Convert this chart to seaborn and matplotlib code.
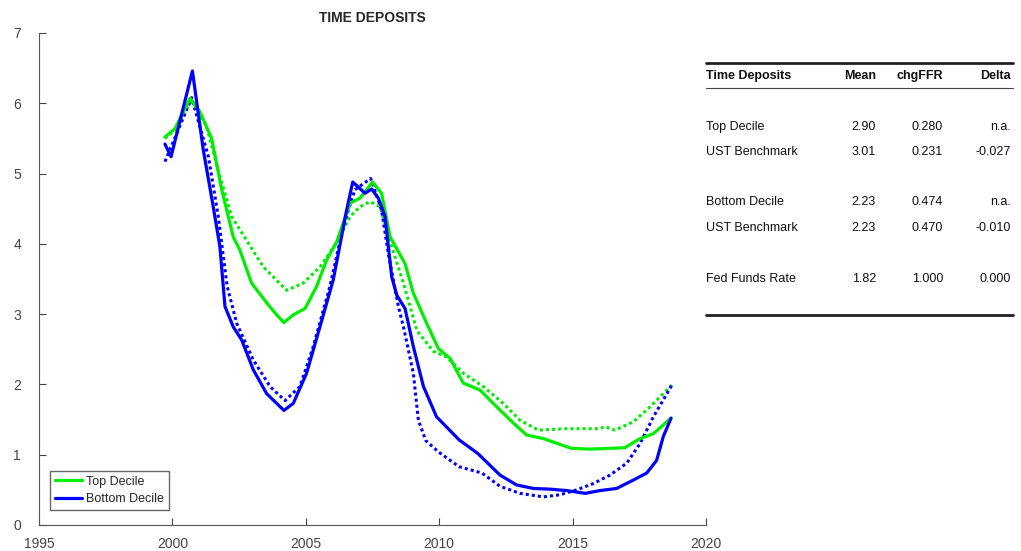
import pandas as pd
import matplotlib
matplotlib.use("Agg")
import matplotlib.pyplot as plt
import seaborn as sns
from matplotlib.lines import Line2D

# Top decile (solid green)
top_years = [1999.72, 2000.1, 2000.66, 2001.03, 2001.47, 2001.85, 2002.28, 2002.53, 2002.97,
             2003.6, 2003.91, 2004.18, 2004.53, 2004.97, 2005.4, 2005.78, 2006.16, 2006.66,
             2007.03, 2007.5, 2007.84, 2008.16, 2008.72, 2009.03, 2009.53, 2009.97, 2010.41,
             2010.9, 2011.53, 2012.16, 2012.78, 2013.28, 2013.9, 2014.96, 2015.65, 2016.4,
             2016.96, 2017.53, 2018.03, 2018.69]
top_vals = [5.52, 5.64, 6.07, 5.88, 5.50, 4.77, 4.10, 3.91, 3.44,
            3.13, 2.99, 2.88, 2.99, 3.08, 3.39, 3.77, 4.03, 4.58,
            4.65, 4.88, 4.72, 4.10, 3.72, 3.30, 2.87, 2.51, 2.37,
            2.02, 1.92, 1.68, 1.45, 1.28, 1.23, 1.09, 1.08, 1.09,
            1.10, 1.23, 1.30, 1.52]

# UST benchmark for top decile (dotted green)
top_ust_years = [1999.72, 2000.1, 2000.72, 2001.28, 2001.78, 2002.22, 2002.78, 2003.41, 2004.28,
                 2004.9, 2005.53, 2006.16, 2006.66, 2007.03, 2007.41, 2007.78, 2008.22, 2008.66,
                 2009.16, 2009.78, 2010.28, 2010.9, 2011.65, 2012.4, 2013.03, 2013.72, 2014.78,
                 2015.4, 2016.03, 2016.2, 2016.59, 2017.28, 2017.9, 2018.72]
top_ust_vals = [5.50, 5.62, 6.05, 5.67, 4.96, 4.39, 4.05, 3.67, 3.34,
                3.44, 3.67, 4.02, 4.39, 4.53, 4.60, 4.53, 3.96, 3.44,
                2.77, 2.47, 2.39, 2.16, 1.97, 1.73, 1.49, 1.35, 1.37,
                1.37, 1.37, 1.40, 1.35, 1.47, 1.68, 1.99]

# Bottom decile (solid blue)
bot_years = [1999.72, 1999.95, 2000.75, 2001.16, 2001.53, 2001.78, 2001.97, 2002.28, 2002.6,
             2003.03, 2003.53, 2004.18, 2004.53, 2005.03, 2005.53, 2006.03, 2006.53, 2006.76,
             2007.22, 2007.47, 2007.72, 2007.97, 2008.22, 2008.41, 2008.72, 2009.03, 2009.41,
             2009.9, 2010.75, 2011.44, 2012.28, 2012.9, 2013.53, 2014.15, 2014.78, 2015.47,
             2016.03, 2016.65, 2017.28, 2017.78, 2018.15, 2018.4, 2018.69]
bot_vals = [5.42, 5.24, 6.46, 5.33, 4.53, 3.96, 3.11, 2.82, 2.63,
            2.21, 1.87, 1.63, 1.73, 2.16, 2.82, 3.49, 4.48, 4.88,
            4.72, 4.78, 4.65, 4.39, 3.53, 3.27, 3.08, 2.54, 1.97,
            1.54, 1.21, 1.02, 0.71, 0.57, 0.52, 0.51, 0.49, 0.45,
            0.49, 0.52, 0.64, 0.74, 0.92, 1.26, 1.52]

# UST benchmark for bottom decile (dotted blue)
bot_ust_years = [1999.72, 2000.72, 2001.35, 2001.72, 2002.05, 2002.41, 2003.03, 2003.66, 2004.22,
                 2004.78, 2005.28, 2005.9, 2006.4, 2006.84, 2007.43, 2007.84, 2008.09, 2008.47,
                 2008.66, 2009.03, 2009.22, 2009.5, 2009.97, 2010.74, 2011.6, 2012.28, 2013.03,
                 2013.9, 2014.53, 2015.15, 2015.78, 2016.4, 2017.03, 2017.53, 2018.03, 2018.72]
bot_ust_vals = [5.17, 6.08, 5.24, 4.39, 3.40, 2.87, 2.35, 1.97, 1.77,
                1.97, 2.54, 3.39, 4.24, 4.77, 4.93, 4.48, 3.87, 3.11,
                2.82, 2.16, 1.49, 1.20, 1.04, 0.83, 0.74, 0.55, 0.45,
                0.40, 0.43, 0.50, 0.59, 0.71, 0.88, 1.16, 1.54, 1.99]

# summary table
table_cols = ["Time Deposits", "Mean", "chgFFR", "Delta"]
table_rows = [
    ["Top Decile", "2.90", "0.280", "n.a."],
    ["UST Benchmark", "3.01", "0.231", "-0.027"],
    ["Bottom Decile", "2.23", "0.474", "n.a."],
    ["UST Benchmark", "2.23", "0.470", "-0.010"],
    ["Fed Funds Rate", "1.82", "1.000", "0.000"],
]

sns.set_style("ticks")
plt.rcParams["font.family"] = ["Liberation Sans", "DejaVu Sans"]

green = "#00ee00"
blue = "#0000ff"

fig = plt.figure(figsize=(10.21, 5.51), dpi=100)
ax = fig.add_axes([39 / 1021, 26 / 551, 667 / 1021, 492 / 551])

sns.lineplot(x=top_ust_years, y=top_ust_vals, ax=ax, color=green, lw=2.2,
             linestyle=(0, (1, 1)), sort=False, estimator=None)
sns.lineplot(x=bot_ust_years, y=bot_ust_vals, ax=ax, color=blue, lw=2.2,
             linestyle=(0, (1, 1)), sort=False, estimator=None)
sns.lineplot(x=top_years, y=top_vals, ax=ax, color=green, lw=2.3, sort=False, estimator=None)
sns.lineplot(x=bot_years, y=bot_vals, ax=ax, color=blue, lw=2.3, sort=False, estimator=None)

ax.set_xlim(1995, 2020)
ax.set_ylim(0, 7)
ax.set_xticks(range(1995, 2021, 5))
ax.set_yticks(range(0, 8))
ax.tick_params(direction="in", length=5, colors="#444444", labelsize=10)
ax.tick_params(axis="x", pad=9)
ax.tick_params(axis="y", pad=13)
for side in ["top", "right"]:
    ax.spines[side].set_visible(False)
for side in ["left", "bottom"]:
    ax.spines[side].set_color("#555555")
ax.set_xlabel("")
ax.set_ylabel("")
ax.set_title("TIME DEPOSITS", fontsize=10, fontweight="bold", pad=8)

handles = [Line2D([], [], color=green, lw=2.3), Line2D([], [], color=blue, lw=2.3)]
leg = ax.legend(handles, ["Top Decile", "Bottom Decile"], loc="lower left",
                bbox_to_anchor=(0.012, 0.025), fontsize=9, handlelength=2.2,
                handletextpad=0.3, fancybox=False, framealpha=1, borderpad=0.4,
                labelspacing=0.45, borderaxespad=0.2)
leg.get_frame().set_edgecolor("#666666")

# table drawn in figure pixel coordinates
W, H = 1021, 551
def fx(px):
    return px / W
def fy(py):
    return 1 - py / H

fig.add_artist(Line2D([fx(706), fx(1013)], [fy(63), fy(63)], color="#222222", lw=2))
fig.add_artist(Line2D([fx(706), fx(1013)], [fy(88), fy(88)], color="#444444", lw=0.8))
fig.add_artist(Line2D([fx(706), fx(1013)], [fy(315), fy(315)], color="#222222", lw=2))

col_x = [706, 876, 943, 1011]
col_ha = ["left", "right", "right", "right"]
for x, ha, name in zip(col_x, col_ha, table_cols):
    fig.text(fx(x), fy(76), name, ha=ha, va="center", fontsize=9,
             fontweight="bold", color="#111111")

row_y = [127, 152, 202, 228, 279]
for y, row in zip(row_y, table_rows):
    for x, ha, cell in zip(col_x, col_ha, row):
        fig.text(fx(x), fy(y), cell, ha=ha, va="center", fontsize=9, color="#111111")

fig.savefig("out.png", dpi=100)
